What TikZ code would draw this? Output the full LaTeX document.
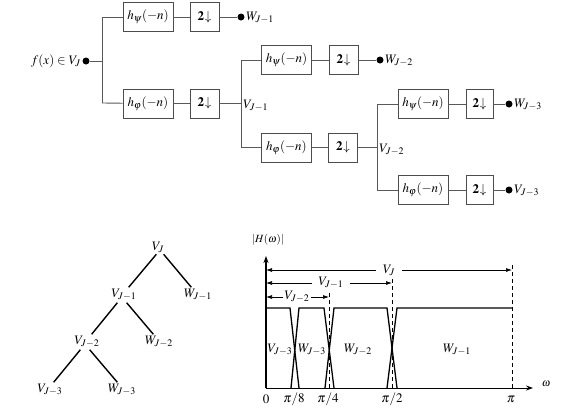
\documentclass[tikz,border=0pt]{standalone}
\usepackage{mathptmx}
\usepackage{bm}
\DeclareMathSizes{13}{13}{10}{8}
\usetikzlibrary{arrows.meta}
\begin{document}
\begin{tikzpicture}[x=1pt,y=-1pt,font=\fontsize{13}{15}\selectfont,
  wire/.style={draw=black!65,line width=0.9pt},
  filt/.style={draw=black!70,line width=0.8pt,minimum width=50pt,minimum height=29pt,inner sep=0pt},
  dn/.style={filt,minimum width=29pt},
  dotn/.style={circle,fill=black,inner sep=0pt,minimum size=7pt},
  lbl/.style={inner sep=1pt},
  tree/.style={draw=black,line width=1.4pt,shorten <=1pt,shorten >=1pt},
  curve/.style={draw=black,line width=1.3pt,line join=miter},
  dim/.style={draw=black,line width=0.7pt,-{Latex[length=6pt,width=4pt]}},
  guide/.style={draw=black,line width=0.6pt,dash pattern=on 4pt off 3pt}]
\useasboundingbox (0,0) rectangle (574,413);
\newcommand{\dwn}{$\mathbf{2}\mkern-3mu\bm{\downarrow}$}
% ---------- filter bank ----------
\node[dotn] (in) at (86,61) {};
\node[lbl,anchor=east] (fx) at (82,61) {$f(x)\in V_J$};
\coordinate (s1) at (102,61);
\coordinate (s1t) at (102,17);
\coordinate (s1b) at (102,103);
\node[filt] (hp1) at (148,17) {$h_\psi(-n)$};
\node[dn] (d1a) at (204.5,17) {\dwn};
\node[dotn] (w1) at (241,17) {};
\node[lbl,anchor=west] (w1l) at (245,18) {$W_{J-1}$};
\node[filt] (hf1) at (148,103.5) {$h_\varphi(-n)$};
\node[dn] (d1b) at (204.5,103.5) {\dwn};
\coordinate (v1) at (241,103.5);
\coordinate (v1t) at (241,60);
\coordinate (v1b) at (241,147.5);
\node[lbl,anchor=west] (v1l) at (242,106) {$V_{J-1}$};
\node[filt] (hp2) at (286.5,60) {$h_\psi(-n)$};
\node[dn] (d2a) at (343.5,60) {\dwn};
\node[dotn] (w2) at (380,60) {};
\node[lbl,anchor=west] (w2l) at (384,61) {$W_{J-2}$};
\node[filt] (hf2) at (286.5,147.5) {$h_\varphi(-n)$};
\node[dn] (d2b) at (343,147.5) {\dwn};
\coordinate (v2) at (377,147.5);
\coordinate (v2t) at (377,104);
\coordinate (v2b) at (377,190);
\node[lbl,anchor=west] (v2l) at (378,150) {$V_{J-2}$};
\node[filt] (hp3) at (423,104) {$h_\psi(-n)$};
\node[dn,minimum width=27pt] (d3a) at (479.5,104) {\dwn};
\node[dotn] (w3) at (509,104) {};
\node[lbl,anchor=west] (w3l) at (513,105) {$W_{J-3}$};
\node[filt] (hf3) at (423,190) {$h_\varphi(-n)$};
\node[dn,minimum width=27pt] (d3b) at (479.5,190) {\dwn};
\node[dotn] (v3) at (509,190) {};
\node[lbl,anchor=west] (v3l) at (513,191) {$V_{J-3}$};
\draw[wire] (in) -- (s1);
\draw[wire] (s1t) -- (s1b);
\draw[wire] (s1t) -- (hp1);
\draw[wire] (hp1) -- (d1a);
\draw[wire] (d1a) -- (w1);
\draw[wire] (s1b) -- (hf1);
\draw[wire] (hf1) -- (d1b);
\draw[wire] (d1b) -- (v1);
\draw[wire] (v1t) -- (v1b);
\draw[wire] (v1t) -- (hp2);
\draw[wire] (hp2) -- (d2a);
\draw[wire] (d2a) -- (w2);
\draw[wire] (v1b) -- (hf2);
\draw[wire] (hf2) -- (d2b);
\draw[wire] (d2b) -- (v2);
\draw[wire] (v2t) -- (v2b);
\draw[wire] (v2t) -- (hp3);
\draw[wire] (hp3) -- (d3a);
\draw[wire] (d3a) -- (w3);
\draw[wire] (v2b) -- (hf3);
\draw[wire] (hf3) -- (d3b);
\draw[wire] (d3b) -- (v3);
% ---------- tree ----------
\node[lbl] (tVJ) at (158,247) {$V_J$};
\node[lbl] (tVJ1) at (124,295) {$V_{J-1}$};
\node[lbl] (tWJ1) at (198,295) {$W_{J-1}$};
\node[lbl] (tVJ2) at (87,342) {$V_{J-2}$};
\node[lbl] (tWJ2) at (159,342) {$W_{J-2}$};
\node[lbl] (tVJ3) at (50,390) {$V_{J-3}$};
\node[lbl] (tWJ3) at (122,390) {$W_{J-3}$};
\draw[tree] ([xshift=-1pt]tVJ.south) -- ([xshift=4pt]tVJ1.north);
\draw[tree] ([xshift=5pt]tVJ.south) -- ([xshift=-6pt]tWJ1.north);
\draw[tree] ([xshift=-6pt]tVJ1.south) -- ([xshift=4pt]tVJ2.north);
\draw[tree] ([xshift=2pt]tVJ1.south) -- ([xshift=-5pt]tWJ2.north);
\draw[tree] ([xshift=-6pt]tVJ2.south) -- ([xshift=3pt]tVJ3.north);
\draw[tree] ([xshift=2pt]tVJ2.south) -- ([xshift=-4pt]tWJ3.north);
% ---------- spectrum ----------
\coordinate (o) at (266,388);
\coordinate (ytop) at (266,256);
\coordinate (xend) at (533,388);
\draw[curve,-{Stealth[length=7pt,width=5pt]}] (o) -- (ytop);
\draw[curve,line width=1pt,-{Stealth[length=7pt,width=5pt]}] (o) -- (xend);
\node[lbl,font=\fontsize{11}{13}\selectfont] (Hl) at (268,240) {$|H(\omega)|$};
\node[lbl,font=\fontsize{11}{13}\selectfont] (wl) at (546,384) {$\omega$};
\draw[curve] (266,308) -- (290,308) -- (299,388);
\draw[curve] (291,388) -- (299,308) -- (324,308) -- (334,388);
\draw[curve] (325,388) -- (334,308) -- (387,308) -- (397,388);
\draw[curve] (387,388) -- (397,308) -- (512,308);
\draw[guide] (512,388) -- (512,264);
\draw[guide] (392,388) -- (392,279);
\draw[guide] (329,388) -- (329,292);
% dimension arrows
\node[lbl] (dVJ) at (389,270) {$V_J$};
\coordinate (dVJa) at (266,270);
\coordinate (dVJb) at (512,270);
\draw[dim] ([xshift=-6pt]dVJ.west) -- (dVJa);
\draw[dim] ([xshift=6pt]dVJ.east) -- (dVJb);
\node[lbl] (dVJ1) at (331,283) {$V_{J-1}$};
\coordinate (dVJ1a) at (266,283);
\coordinate (dVJ1b) at (392,283);
\draw[dim] ([xshift=-5pt]dVJ1.west) -- (dVJ1a);
\draw[dim] ([xshift=5pt]dVJ1.east) -- (dVJ1b);
\node[lbl] (dVJ2) at (297,297) {$V_{J-2}$};
\coordinate (dVJ2a) at (266,297);
\coordinate (dVJ2b) at (329,297);
\draw[dim] (dVJ2.west) -- (dVJ2a);
\draw[dim] (dVJ2.east) -- (dVJ2b);
% band labels
\node[lbl] (bV3) at (280,350) {$V_{J-3}$};
\node[lbl] (bW3) at (312,350) {$W_{J-3}$};
\node[lbl] (bW2) at (358,350) {$W_{J-2}$};
\node[lbl] (bW1) at (457,350) {$W_{J-1}$};
% ticks
\node[lbl] (t0) at (266,399) {$0$};
\node[lbl] (t8) at (294,399) {$\pi/8$};
\node[lbl] (t4) at (328,399) {$\pi/4$};
\node[lbl] (t2) at (392,399) {$\pi/2$};
\node[lbl] (tp) at (511,399) {$\pi$};
\end{tikzpicture}
\end{document}
